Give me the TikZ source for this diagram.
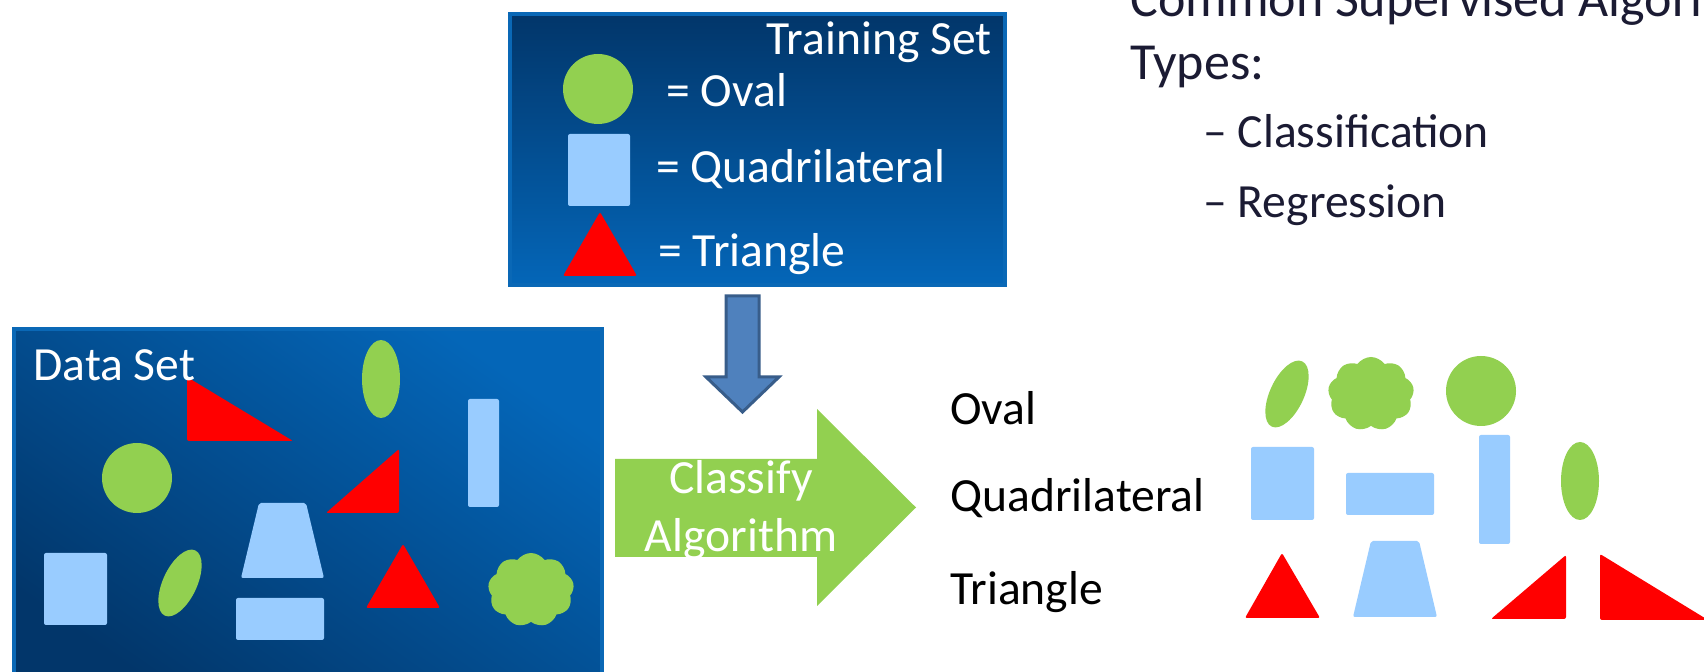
\documentclass[tikz,border=0pt]{standalone}
\usepackage{fontspec}
\setmainfont{Carlito}
\usetikzlibrary{positioning,shapes.symbols}
\definecolor{shapegreen}{HTML}{92D050}
\definecolor{shapeblue}{HTML}{99CCFF}
\definecolor{shapered}{HTML}{FF0000}
\definecolor{boxedge}{HTML}{0A68B6}
\definecolor{boxdark}{HTML}{02366A}
\definecolor{boxlight}{HTML}{0466B8}
\definecolor{arrowblue}{HTML}{4F81BD}
\definecolor{arrowedge}{HTML}{385D8A}
\definecolor{textnavy}{HTML}{1B1B33}
\def\lblsize{\fontsize{23.8}{29}\selectfont}
\def\titlesize{\fontsize{26}{31.5}\selectfont}
\def\itemsize{\fontsize{23.8}{29}\selectfont}

\begin{document}
\begin{tikzpicture}[x=0.5pt,y=-0.5pt,
    greenshape/.style={fill=shapegreen},
    blueshape/.style={fill=shapeblue,rounded corners=1pt},
    redshape/.style={fill=shapered,rounded corners=1pt},
    puffs/.style={cloud,cloud puffs=9,cloud puff arc=110,aspect=1.15,fill=shapegreen,
        minimum width=43pt,minimum height=37pt,inner sep=0pt}]
    \tikzstyle{setbox}=[rectangle,draw=boxedge,line width=2pt,inner sep=0pt]
    \tikzstyle{whitelbl}=[text=white,inner sep=0pt,font=\lblsize]
    \tikzstyle{blacklbl}=[text=black,inner sep=0pt,font=\lblsize,anchor=base west]
    \tikzstyle{navylbl}=[text=textnavy,inner sep=0pt,anchor=base west]

    \useasboundingbox (0,0) rectangle (1704,672);
    \clip (0,0) rectangle (1704,672);
    \fill[white] (0,0) rectangle (1704,672);

    % Draw the two set boxes
    \node[setbox,minimum width=247.5pt,minimum height=135.5pt,
        top color=boxdark,bottom color=boxlight] (train) at (757.5,149.5) {};
    \node[setbox,minimum width=294pt,minimum height=184.5pt,
        top color=boxlight,bottom color=boxdark,shading angle=-35] (data) at (308,513.5) {};

    % Legend of the training set
    \fill[greenshape] (598,89) circle[radius=35];
    \fill[blueshape] (568,134) rectangle (630,206);
    \fill[redshape] (600,212) -- (637,276) -- (563,276) -- cycle;
    \node[whitelbl,anchor=base east] (train-title) at (992,55) {Training Set};
    \foreach \x/\y/\name in {666/107/Oval,656/183/Quadrilateral,658/267/Triangle}
        \node[whitelbl,anchor=base west] (eq-\name) at (\x,\y) {= \name};

    % Shapes of the data set
    \fill[redshape] (187,377) -- (293,441) -- (187,441) -- cycle;
    \fill[greenshape] (381,379) circle[x radius=19,y radius=39];
    \fill[blueshape] (468,399) rectangle (499,507);
    \fill[greenshape] (137,478) circle[radius=35];
    \fill[redshape] (399,449) -- (399,513) -- (326,513) -- cycle;
    \fill[blueshape] (259,503) -- (306,503) -- (324,578) -- (241,578) -- cycle;
    \fill[blueshape] (44,553) rectangle (107,625);
    \fill[greenshape] (180,583) circle[x radius=17,y radius=36,rotate=-25];
    \fill[redshape] (403,544) -- (440,608) -- (366,608) -- cycle;
    \fill[blueshape] (236,598) rectangle (324,640);
    \node[puffs] (cloud-data) at (531,590) {};
    \node[whitelbl,anchor=base west] (data-title) at (33,381) {Data Set};

    % Block arrows
    \filldraw[fill=arrowblue,draw=arrowedge,line width=1.5pt]
        (726,296) -- (759,296) -- (759,377) -- (779,377) -- (742.5,412)
        -- (706,377) -- (726,377) -- cycle;
    \fill[shapegreen] (615,459) -- (817,459) -- (817,409) -- (916,507.5)
        -- (817,606) -- (817,557) -- (615,557) -- cycle;
    \node[whitelbl,align=center,anchor=base] (classify) at (741,552) {Classify\\Algorithm};

    % Class names
    \foreach \name/\y in {Oval/425,Quadrilateral/512,Triangle/605}
        \node[blacklbl] (cls-\name) at (950,\y) {\name};

    % Classified shapes
    \fill[greenshape] (1287,394) circle[x radius=17,y radius=36,rotate=-25];
    \node[puffs] (cloud-out) at (1371,394) {};
    \fill[greenshape] (1481,391) circle[radius=35];
    \fill[blueshape] (1251,447) rectangle (1314,520);
    \fill[blueshape] (1346,473) rectangle (1434,515);
    \fill[blueshape] (1479,435) rectangle (1510,544);
    \fill[greenshape] (1580,481) circle[x radius=19,y radius=39];
    \fill[redshape] (1282,553) -- (1320,618) -- (1245,618) -- cycle;
    \fill[blueshape] (1371,541) -- (1419,541) -- (1437,617) -- (1353,617) -- cycle;
    \fill[redshape] (1566,555) -- (1566,619) -- (1491,619) -- cycle;
    \fill[redshape] (1600,554) -- (1600,620) -- (1708,620) -- cycle;

    % Algorithm types
    \node[navylbl,font=\titlesize,align=left] (types) at (1130,80)
        {Common Supervised Algorithm\\Types:};
    \node[navylbl,font=\itemsize] (item-1) at (1203,148) {-- Classification};
    \node[navylbl,font=\itemsize] (item-2) at (1203,218) {-- Regression};
\end{tikzpicture}
\end{document}
